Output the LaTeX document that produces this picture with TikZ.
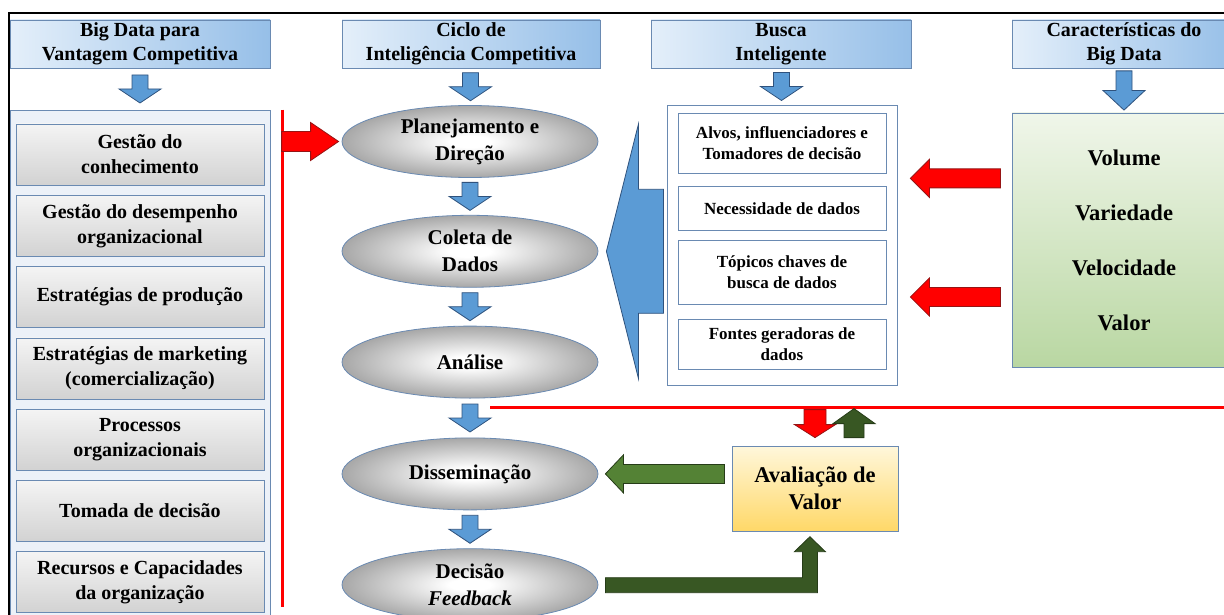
\documentclass[tikz,border=0pt]{standalone}
\usepackage{fontspec}
\setmainfont{Liberation Serif}
\usetikzlibrary{shapes.geometric, positioning, chains, calc}

\definecolor{BoxLine}{RGB}{106,138,178}
\definecolor{ArrowBlue}{RGB}{91,155,213}
\definecolor{ArrowLine}{RGB}{47,82,125}
\definecolor{HeadLight}{RGB}{228,239,250}
\definecolor{HeadDark}{RGB}{150,191,232}
\definecolor{PanelFill}{RGB}{236,241,248}
\definecolor{ItemTop}{RGB}{244,244,244}
\definecolor{ItemBot}{RGB}{210,210,210}
\definecolor{GreenTop}{RGB}{240,246,234}
\definecolor{GreenBot}{RGB}{185,215,162}
\definecolor{GoldTop}{RGB}{255,247,219}
\definecolor{GoldBot}{RGB}{255,216,104}
\definecolor{LeafGreen}{RGB}{84,130,53}
\definecolor{DarkGreen}{RGB}{56,87,35}
\definecolor{EdgeGreen}{RGB}{38,60,24}
\definecolor{EdgeRed}{RGB}{150,20,20}

\pgfdeclareradialshading{EllShade}{\pgfpoint{0bp}{0bp}}{color(0bp)=(white); color(4bp)=(white); color(26bp)=(black!36); color(50bp)=(black!42)}

\begin{document}
\begin{tikzpicture}[
     x=1pt, y=-1pt,
     line width=0.8pt,
     node distance = 9.5pt,
HeadBox/.style={draw=BoxLine, left color=HeadLight, right color=HeadDark,
                minimum height=48pt, inner sep=0pt, align=center,
                font=\bfseries\fontsize{20}{24}\selectfont},
ItemBox/.style={draw=BoxLine, top color=ItemTop, bottom color=ItemBot,
                minimum width=248pt, minimum height=61pt, inner sep=0pt,
                align=center, font=\bfseries\fontsize{20}{25}\selectfont, on chain},
StepEll/.style={ellipse, draw=BoxLine, shade, shading=EllShade,
                minimum width=256pt, minimum height=72pt, inner sep=0pt,
                align=center, font=\bfseries\fontsize{21}{27}\selectfont},
SearchBox/.style={draw=BoxLine, fill=white, minimum width=208pt, inner sep=0pt,
                align=center, font=\bfseries\fontsize{17}{21}\selectfont},
RedRule/.style={draw=red, line width=2.2pt},
BlueFill/.style={draw=ArrowLine, fill=ArrowBlue},
RedFill/.style={draw=EdgeRed, fill=red},
GreenFill/.style={draw=EdgeGreen, fill=LeafGreen},
DarkFill/.style={draw=EdgeGreen, fill=DarkGreen},
BlueDown/.pic={\draw[BlueFill] (-8,-14) -- (8,-14) -- (8,0) -- (21,0) -- (0,14) -- (-21,0) -- (-8,0) -- cycle;},
RedLeft/.pic={\draw[RedFill] (0,0) -- (19,-19) -- (19,-9.5) -- (90,-9.5) -- (90,9.5) -- (19,9.5) -- (19,19) -- cycle;},
  ]
\useasboundingbox (0,0) rectangle (1224,615);
\clip (0,0) rectangle (1224,615);

\node [HeadBox, minimum width=260pt] (h1) at (140,44) {Big Data para\\Vantagem Competitiva};
\node [HeadBox, minimum width=258pt] (h2) at (471,44) {Ciclo de\\Inteligência Competitiva};
\node [HeadBox, minimum width=260pt] (h3) at (781,44) {Busca\\Inteligente};
\node [HeadBox, minimum width=224pt] (h4) at (1124,44) {Características do\\Big Data};

\node [draw=BoxLine, fill=PanelFill, minimum width=260pt, minimum height=515pt, inner sep=0pt] (lp) at (140,367.5) {};
\begin{scope}[start chain=going below, shift={(140,154.5)}]
  \node [ItemBox] (i1) {Gestão do\\conhecimento};
  \node [ItemBox] (i2) {Gestão do desempenho\\organizacional};
  \node [ItemBox] (i3) {Estratégias de produção};
  \node [ItemBox] (i4) {Estratégias de marketing\\(comercialização)};
  \node [ItemBox] (i5) {Processos\\organizacionais};
  \node [ItemBox] (i6) {Tomada de decisão};
  \node [ItemBox] (i7) {Recursos e Capacidades\\da organização};
\end{scope}

\node [StepEll] (e1) at (470,141.5) {Planejamento e\\Direção};
\node [StepEll, below=37pt of e1] (e2) {Coleta de\\Dados};
\node [StepEll, below=38pt of e2] (e3) {Análise};
\node [StepEll, below=39pt of e3] (e4) {Disseminação};
\node [StepEll, below=38pt of e4] (e5) {Decisão\\\textit{Feedback}};

\node [draw=BoxLine, fill=white, minimum width=230pt, minimum height=280pt, inner sep=0pt] (bo) at (782,245) {};
\node [SearchBox, minimum height=60pt] (b1) at (782,143) {Alvos, influenciadores e\\Tomadores de decisão};
\node [SearchBox, minimum height=44pt, below=13pt of b1] (b2) {Necessidade de dados};
\node [SearchBox, minimum height=64pt, below=9pt of b2] (b3) {Tópicos chaves de\\busca de dados};
\node [SearchBox, minimum height=50pt, below=14pt of b3] (b4) {Fontes geradoras de\\dados};

\node [draw=BoxLine, top color=GreenTop, bottom color=GreenBot, minimum width=224pt,
       minimum height=254pt, inner sep=0pt, align=center,
       font=\bfseries\fontsize{22.5}{55}\selectfont] (gb) at (1124,240) {Volume\\Variedade\\Velocidade\\Valor};
\node [draw=BoxLine, top color=GoldTop, bottom color=GoldBot, minimum width=166pt,
       minimum height=85pt, inner sep=0pt, align=center,
       font=\bfseries\fontsize{22.5}{27}\selectfont] (av) at (815,488.5) {Avaliação de\\Valor};

\pic at ($(h1.south)!.5!(lp.north)$) {BlueDown};
\pic at ($(h2.south)!.5!(e1.north)$) {BlueDown};
\pic at ($(h3.south)!.5!(bo.north)$) {BlueDown};
\pic [yscale=1.4] at ($(h4.south)!.5!(gb.north)$) {BlueDown};
\pic at ($(e1.south)!.5!(e2.north)$) {BlueDown};
\pic at ($(e2.south)!.5!(e3.north)$) {BlueDown};
\pic at ($(e3.south)!.5!(e4.north)$) {BlueDown};
\pic at ($(e4.south)!.5!(e5.north)$) {BlueDown};

\draw[BlueFill] ([xshift=8pt]e2.east) -- ++(32,-127) -- ++(0,65) -- ++(25,0) -- ++(0,124)
  -- ++(-25,0) -- ++(0,65) -- cycle;

\draw[RedRule] ([xshift=12pt]lp.north east) -- ++(0,497);
\draw[RedFill] ([xshift=-3pt]e1.west) -- ++(-28,-19) -- ++(0,9) -- ++(-29,0) -- ++(0,20)
  -- ++(29,0) -- ++(0,9) -- cycle;
\draw[RedRule] ([xshift=20pt, yshift=-9pt]e3.south) -- ++(760,0);

\pic at ($(bo.east |- b1.south)+(13,5)$) {RedLeft};
\pic at ($(bo.east |- b3.south)+(13,-8)$) {RedLeft};

\draw[RedFill] ([yshift=8pt]av.north) -- ++(-20.5,-13) -- ++(9.5,0) -- ++(0,-15) -- ++(22,0)
  -- ++(0,15) -- ++(9.5,0) -- cycle;
\draw[DarkFill] ([xshift=29pt, yshift=8pt]av.north) -- ++(0,-14) -- ++(-11,0) -- ++(21,-15)
  -- ++(21,15) -- ++(-11,0) -- ++(0,14) -- cycle;
\draw[GreenFill] ([xshift=7pt]e4.east) -- ++(18,-19) -- ++(0,9.5) -- ++(101,0) -- ++(0,19)
  -- ++(-101,0) -- ++(0,9.5) -- cycle;
\draw[DarkFill] ([xshift=7pt]e5.east) ++(0,-7) -- ++(197,0) -- ++(0,-26) -- ++(-8,0)
  -- ++(15.5,-15) -- ++(15.5,15) -- ++(-8,0) -- ++(0,41) -- ++(-212,0) -- cycle;

\draw[line width=2.5pt] (9,620) -- (9,13) -- (1230,13);
\end{tikzpicture}
\end{document}
